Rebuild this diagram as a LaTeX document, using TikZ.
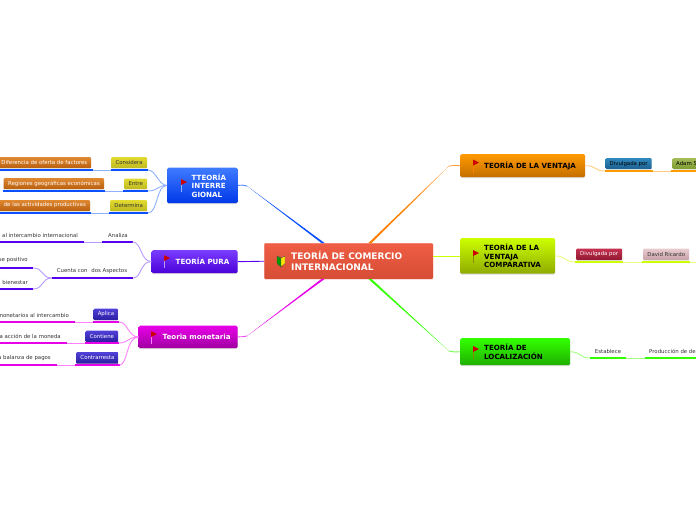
\documentclass[tikz,border=0pt]{standalone}
\usepackage{fontspec}
\setmainfont{DejaVu Sans}
\usetikzlibrary{shadows,calc}

\definecolor{bluetop}{HTML}{3F7BFF}
\definecolor{bluelow}{HTML}{0038E8}
\definecolor{blueline}{HTML}{0A50FF}
\definecolor{purpletop}{HTML}{7A3DFF}
\definecolor{purplelow}{HTML}{4A00D8}
\definecolor{purpleline}{HTML}{5500EE}
\definecolor{magtop}{HTML}{E800E8}
\definecolor{maglow}{HTML}{A000A0}
\definecolor{orangetop}{HTML}{FF9A00}
\definecolor{orangelow}{HTML}{C46E00}
\definecolor{limetop}{HTML}{CCFF00}
\definecolor{limelow}{HTML}{8FAA00}
\definecolor{greentop}{HTML}{33FF00}
\definecolor{greenlow}{HTML}{1FAE00}
\definecolor{bluelite}{HTML}{8FB0FF}
\definecolor{purplelite}{HTML}{B79AFF}
\definecolor{maglite}{HTML}{FF80FF}
\definecolor{orangelite}{HTML}{FFCC80}
\definecolor{limelite}{HTML}{E6FF80}
\definecolor{greenlite}{HTML}{A0FF80}
\definecolor{rootred}{HTML}{EE553B}
\definecolor{ochretop}{HTML}{E08830}
\definecolor{ochrelow}{HTML}{B85F10}
\definecolor{sandtop}{HTML}{E2DA30}
\definecolor{sandlow}{HTML}{BDB820}
\definecolor{indigotop}{HTML}{5040D8}
\definecolor{indigolow}{HTML}{2A1EA0}
\definecolor{seatop}{HTML}{3088BC}
\definecolor{sealow}{HTML}{1C6090}
\definecolor{mosstop}{HTML}{A4BC58}
\definecolor{mosslow}{HTML}{7C9A30}
\definecolor{winetop}{HTML}{C43050}
\definecolor{winelow}{HTML}{901830}
\definecolor{rosetop}{HTML}{E8CCD0}
\definecolor{roselow}{HTML}{C8A0A8}

\tikzset{
    topicbox/.style={rounded corners=1.5pt,inner sep=0pt,anchor=north west,
        drop shadow={shadow xshift=0pt,shadow yshift=-1pt,opacity=0.3}},
    topictext/.style={anchor=west,inner sep=0pt,align=left,font=\fontsize{7.1}{8.6}\selectfont\bfseries},
    leafbox/.style={rounded corners=1pt,inner sep=0pt,anchor=north west,
        drop shadow={shadow xshift=0pt,shadow yshift=-0.5pt,opacity=0.2}},
    leaftext/.style={inner sep=0pt,font=\fontsize{5.4}{6}\selectfont,text=black!80},
    under/.style={line width=2pt},
    link/.style={line width=0.9pt},
    pics/topicflag/.style={code={
        \draw[line width=0.6pt,#1] (0,0) -- (0,13);
        \fill[red!80!black] (0,0) -- (6,3) -- (0,6) -- cycle;
    }}
}

\begin{document}
\begin{tikzpicture}[x=1pt,y=-1pt]
    \useasboundingbox (0,0) rectangle (696,520);
    \clip (0,0) rectangle (696,520);

    % root links
    \coordinate (bluend) at (323,243);
    \coordinate (blueknee) at (247,186);
    \coordinate (orangend) at (370,243);
    \coordinate (orangeknee) at (449,166);
    \coordinate (magend) at (323,279);
    \coordinate (magknee) at (247,336);
    \coordinate (greenend) at (370,279);
    \coordinate (greenknee) at (449,351);

    % root
    \node[inner sep=0pt,anchor=north west,minimum width=169pt,minimum height=36pt,rounded corners=1pt,top color=rootred!95!white,bottom color=rootred!90!black,draw=white!70!rootred,line width=0.4pt] (root) at (264,243) {};
    \node[anchor=west,inner sep=0pt,align=left,text=white,font=\fontsize{9}{10.5}\selectfont\bfseries] (roottext) at (291,261) {TEORÍA DE COMERCIO\\INTERNACIONAL};
    \fill[green!60!black,draw=black!70,line width=0.3pt] (277,256) -- (281,258) -- (281,267) -- (277,263.5) -- cycle;
    \fill[yellow!90!orange,draw=black!70,line width=0.3pt] (281,258) -- (285,256) -- (285,263.5) -- (281,267) -- cycle;

    % topics
    \node[topicbox,top color=bluetop,bottom color=bluelow,minimum width=70.5pt,minimum height=35.5pt] (interre) at (167,167.5) {};
    \node[topictext,text=white] (interretext) at (191.5,185.5) {TTEORÍA\\INTERRE\\GIONAL};
    \node[topicbox,top color=purpletop,bottom color=purplelow,minimum width=86pt,minimum height=23pt] (pura) at (151.5,250) {};
    \node[topictext,text=white] (puratext) at (175.5,261.5) {TEORÍA PURA};
    \node[topicbox,top color=magtop,bottom color=maglow,minimum width=99pt,minimum height=22.5pt] (mone) at (138.5,325.5) {};
    \node[topictext,text=white] (monetext) at (162.5,337) {Teoria monetaria};
    \node[topicbox,top color=orangetop,bottom color=orangelow,minimum width=125pt,minimum height=23pt] (venta) at (460,154) {};
    \node[topictext] (ventatext) at (484,165.5) {TEORÍA DE LA VENTAJA};
    \node[topicbox,top color=limetop,bottom color=limelow,minimum width=95pt,minimum height=35.5pt] (compa) at (460,238) {};
    \node[topictext] (compatext) at (484,256) {TEORÍA DE LA\\VENTAJA\\COMPARATIVA};
    \node[topicbox,top color=greentop,bottom color=greenlow,minimum width=110pt,minimum height=27pt] (local) at (460,338) {};
    \node[topictext] (localtext) at (484,351.5) {TEORÍA DE\\LOCALIZACIÓN};

    % flags
    \pic at (181,179) {topicflag=bluelite};
    \pic at (164,255) {topicflag=purplelite};
    \pic at (151,331) {topicflag=maglite};
    \pic at (473,159.5) {topicflag=orange};
    \pic at (473,250) {topicflag=olive};
    \pic at (473,346) {topicflag=olive};

    \fill[blueline] ($(bluend)+(-1.6,0)$) -- ($(bluend)+(1.6,0)$) -- (blueknee) -- cycle;
    \draw[link,blueline!70] (interre.east) ..controls (242,185) and (244,185) .. (blueknee);
    \fill[orange] ($(orangend)+(-1.6,0)$) -- ($(orangend)+(1.6,0)$) -- (orangeknee) -- cycle;
    \draw[link,orange!70] (venta.west) ..controls (455,165.5) and (452,165) .. (orangeknee);
    \draw[link,purpleline] (pura.east) -- (root.west);
    \draw[link,limetop] (compa.west) -- (root.east |- compa.west);
    \fill[magtop] ($(magend)+(-1.6,0)$) -- ($(magend)+(1.6,0)$) -- (magknee) -- cycle;
    \draw[link,magtop!70] (mone.east) ..controls (242,336.5) and (244,337) .. (magknee);
    \fill[greentop] ($(greenend)+(-1.6,0)$) -- ($(greenend)+(1.6,0)$) -- (greenknee) -- cycle;
    \draw[link,greentop!70] (local.west) ..controls (455,352) and (452,352) .. (greenknee);

    % blue branch
    \node[leafbox,top color=sandtop,bottom color=sandlow,minimum width=36pt,minimum height=11pt] (conside) at (111,157) {};
    \node[leaftext] (considetext) at (conside.center) {Considera};
    \node[leafbox,top color=ochretop,bottom color=ochrelow,minimum width=95pt,minimum height=11pt] (ofer) at (-4,157) {};
    \node[leaftext,text=white,anchor=east] (ofertext) at (87.5,162.5) {Diferencia de oferta de factores};
    \node[leafbox,top color=sandtop,bottom color=sandlow,minimum width=23pt,minimum height=10.5pt] (entre) at (124,178.5) {};
    \node[leaftext] (entretext) at (entre.center) {Entre};
    \node[leafbox,top color=ochretop,bottom color=ochrelow,minimum width=100.5pt,minimum height=11pt] (regio) at (3.5,178) {};
    \node[leaftext,text=white] (regiotext) at (regio.center) {Regiones geográficas económicas};
    \node[leafbox,top color=sandtop,bottom color=sandlow,minimum width=37pt,minimum height=11pt] (deter) at (110,200) {};
    \node[leaftext] (detertext) at (deter.center) {Determina};
    \node[leafbox,top color=ochretop,bottom color=ochrelow,minimum width=94pt,minimum height=11pt] (activ) at (-4,200) {};
    \node[leaftext,text=white,anchor=east] (activtext) at (86,205.5) {de las actividades productivas};
    \foreach \name/\xa/\xb/\yy in {ca/110.5/148/170,cb/0/93/170,ea/123/148/191,eb/2.5/105/191,da/109/148/213,db/0/91/213}{
        \coordinate (\name l) at (\xa,\yy);
        \coordinate (\name r) at (\xb,\yy);
        \draw[under,blueline] (\name l) -- (\name r);
    }
    \draw[link,bluelite] (cbr) -- (cal);
    \draw[link,bluelite] (ebr) -- (eal);
    \draw[link,bluelite] (dbr) -- (dal);
    \draw[link,bluelite] (interre.west) ..controls (158,185) and (156,170) .. (car);
    \draw[link,bluelite] (interre.west) ..controls (158,185) and (158,191) .. (ear);
    \draw[link,bluelite] (interre.west) ..controls (156,185) and (158,213) .. (dar);

    % purple branch
    \node[leaftext] (anali) at (118,235) {Analiza};
    \node[leaftext,anchor=west] (inter) at (2,235) {al intercambio internacional};
    \node[leaftext] (cuenta) at (92,271) {Cuenta con\hspace{2pt} dos Aspectos};
    \node[leaftext,anchor=east] (posi) at (28,260) {se positivo};
    \node[leaftext,anchor=east] (bien) at (28,282) {bienestar};
    \foreach \name/\xa/\xb/\yy in {aa/102/132.5/242,ab/0/84/242,ua/52/133/278,ub/0/33/268,uc/0/33/289}{
        \coordinate (\name l) at (\xa,\yy);
        \coordinate (\name r) at (\xb,\yy);
        \draw[under,purpleline] (\name l) -- (\name r);
    }
    \draw[link,purplelite] (abr) -- (aal);
    \draw[link,purplelite] (pura.west) ..controls (140,261) and (142,242) .. (aar);
    \draw[link,purplelite] (pura.west) ..controls (140,261) and (142,278) .. (uar);
    \draw[link,purplelite] (ubr) ..controls (44,268) and (41,278) .. (ual);
    \draw[link,purplelite] (ucr) ..controls (44,289) and (41,278) .. (ual);

    % magenta branch
    \node[leafbox,top color=indigotop,bottom color=indigolow,minimum width=24.5pt,minimum height=11.5pt] (aplica) at (93.5,308.5) {};
    \node[leaftext,text=white] (aplicatext) at (aplica.center) {Aplica};
    \node[leaftext,anchor=east] (inca) at (69,315) {monetarios al intercambio};
    \node[leafbox,top color=indigotop,bottom color=indigolow,minimum width=32.5pt,minimum height=11.5pt] (conti) at (85.5,330.5) {};
    \node[leaftext,text=white] (contitext) at (conti.center) {Contiene};
    \node[leaftext,anchor=east] (acci) at (61,336) {a acción de la moneda};
    \node[leafbox,top color=indigotop,bottom color=indigolow,minimum width=42.5pt,minimum height=11.5pt] (contra) at (76,352) {};
    \node[leaftext,text=white] (contratext) at (contra.center) {Contrarresta};
    \node[leaftext,anchor=east] (bala) at (51,358) {a balanza de pagos};
    \foreach \name/\xa/\xb/\yy in {pa/92.5/119/322,pb/0/75/322,ta/84.5/119/343,tb/0/67/343,ra/75/119.5/365,rb/0/57/365}{
        \coordinate (\name l) at (\xa,\yy);
        \coordinate (\name r) at (\xb,\yy);
        \draw[under,magtop] (\name l) -- (\name r);
    }
    \draw[link,maglite] (pbr) -- (pal);
    \draw[link,maglite] (tbr) -- (tal);
    \draw[link,maglite] (rbr) -- (ral);
    \draw[link,maglite] (mone.west) ..controls (128,337) and (128,322) .. (par);
    \draw[link,maglite] (mone.west) ..controls (128,337) and (128,343) .. (tar);
    \draw[link,maglite] (mone.west) ..controls (126,337) and (128,365) .. (rar);

    % orange branch
    \node[leafbox,top color=seatop,bottom color=sealow,minimum width=46pt,minimum height=11pt] (divu) at (605.5,158) {};
    \node[leaftext,text=black] (divutext) at (divu.center) {Divulgada por};
    \node[leafbox,top color=mosstop,bottom color=mosslow,minimum width=40pt,minimum height=11pt] (adam) at (672.5,158) {};
    \node[leaftext,anchor=west,text=black] (adamtext) at (676,163.5) {Adam Smith};
    \foreach \name/\xa/\xb/\yy in {va/604.5/653/171,vb/671/696/171}{
        \coordinate (\name l) at (\xa,\yy);
        \coordinate (\name r) at (\xb,\yy);
        \draw[under,orangetop] (\name l) -- (\name r);
    }
    \draw[link,orangelite] (venta.east) ..controls (595,165) and (595,171) .. (val);
    \draw[link,orangelite] (var) -- (vbl);

    % lime branch
    \node[leafbox,top color=winetop,bottom color=winelow,minimum width=46pt,minimum height=11.5pt] (divr) at (576,248.5) {};
    \node[leaftext,text=white] (divrtext) at (divr.center) {Divulgada por};
    \node[leafbox,top color=rosetop,bottom color=roselow,minimum width=46pt,minimum height=11.5pt] (davi) at (643,248.5) {};
    \node[leaftext] (davitext) at (davi.center) {David Ricardo};
    \foreach \name/\xa/\xb/\yy in {la/575/623/262,lb/642/690/262}{
        \coordinate (\name l) at (\xa,\yy);
        \coordinate (\name r) at (\xb,\yy);
        \draw[under,limetop] (\name l) -- (\name r);
    }
    \coordinate (lend) at (696,262);
    \draw[link,limelite] (compa.east) ..controls (566,256) and (564,262) .. (lal);
    \draw[link,limelite] (lar) -- (lbl);
    \draw[link,limelite] (lbr) -- (lend);

    % green branch
    \node[leaftext] (esta) at (608,351) {Establece};
    \node[leaftext,anchor=west] (prod) at (649,351) {Producción de de};
    \foreach \name/\xa/\xb/\yy in {ga/590/626/358,gb/645/696/358}{
        \coordinate (\name l) at (\xa,\yy);
        \coordinate (\name r) at (\xb,\yy);
        \draw[under,greentop] (\name l) -- (\name r);
    }
    \draw[link,greenlite] (local.east) ..controls (581,352) and (580,358) .. (gal);
    \draw[link,greenlite] (gar) -- (gbl);
\end{tikzpicture}
\end{document}
